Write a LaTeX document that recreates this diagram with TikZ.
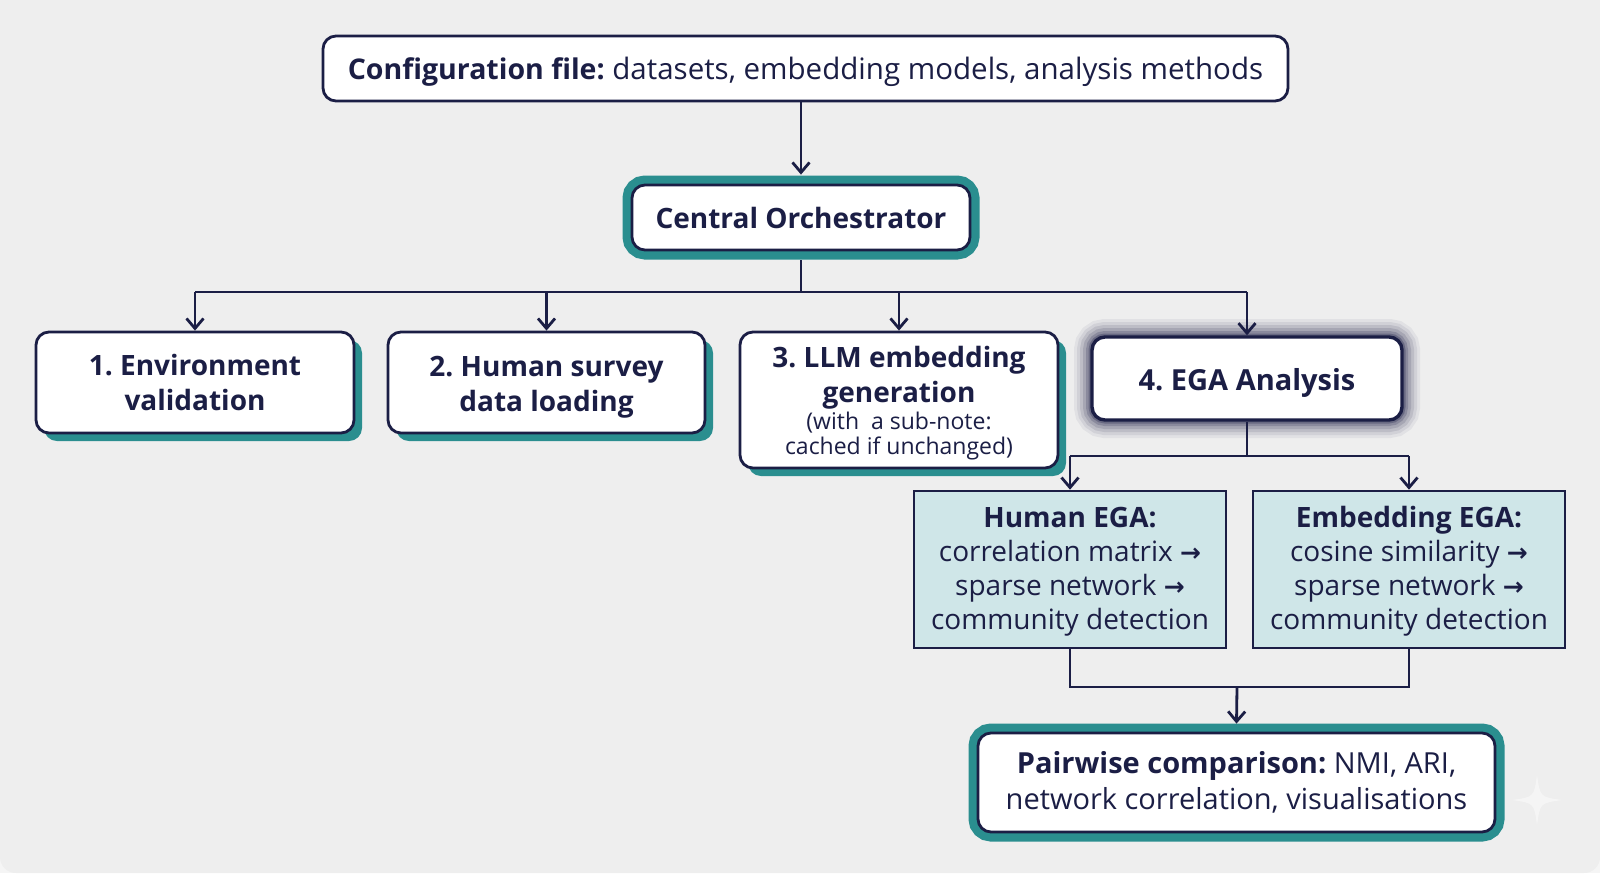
\documentclass[tikz,border=0pt]{standalone}
\usepackage{fontspec}
\setmainfont{Open Sans}
\newfontfamily\arrowfont{DejaVu Sans}
\usetikzlibrary{shapes,arrows.meta,shadows}
\frenchspacing

\definecolor{navy}{HTML}{1B1E45}
\definecolor{tealshade}{HTML}{2A8E8F}
\definecolor{egafill}{HTML}{CFE6E8}
\definecolor{bggrey}{HTML}{EEEEEE}
\definecolor{outergrey}{HTML}{F5F5F5}

\newcommand{\ra}{{\arrowfont\bfseries\fontsize{25}{30}\selectfont →}}

\begin{document}
\begin{tikzpicture}[x=1pt, y=-1pt]
\tikzstyle{boxr}=[rectangle, rounded corners=13pt, draw=navy, line width=2.8pt, fill=white, text=navy, align=center, inner sep=0pt, font=\fontsize{28}{35}\selectfont]
\tikzstyle{boxshadow}=[boxr, drop shadow={shadow xshift=8pt, shadow yshift=-8pt, fill=tealshade, opacity=1}]
\tikzstyle{boxframe}=[boxr, preaction={draw=tealshade, line width=19pt}]
\tikzstyle{boxglow}=[boxr, line width=3.4pt, preaction={draw=navy, line width=36pt, opacity=0.06}, preaction={draw=navy, line width=30pt, opacity=0.08}, preaction={draw=navy, line width=24pt, opacity=0.11}, preaction={draw=navy, line width=18pt, opacity=0.14}, preaction={draw=navy, line width=12pt, opacity=0.2}, preaction={draw=navy, line width=7pt, opacity=0.3}]
\tikzstyle{boxega}=[rectangle, draw=navy, line width=2.6pt, fill=egafill, text=navy, align=center, inner sep=0pt, font=\fontsize{28}{34}\selectfont]
\tikzstyle{linestyle}=[navy, line width=2.8pt]
\tikzstyle{drawstyle}=[linestyle, -{Straight Barb[length=10pt, width=17pt]}]

\useasboundingbox (0,0) rectangle (1600,873);
% background
\fill[outergrey] (0,0) rectangle (1600,873);
\fill[bggrey, rounded corners=16pt] (0,-40) rectangle (1600,873);

\node[boxr, minimum width=965pt, minimum height=65pt, font=\fontsize{29.5}{35}\selectfont] (config) at (805.5,68.5) {\rule{0pt}{28.5pt}{\fontsize{28.5}{35}\selectfont\bfseries Configuration file:} datasets, embedding models, analysis methods};
\node[boxframe, minimum width=338pt, minimum height=65pt] (orch) at (801,217.5) {\textbf{Central Orchestrator}};
\draw[drawstyle] (orch |- config.south) -- ([yshift=9pt]orch.north);

\node[boxshadow, minimum width=318pt, minimum height=101pt] (env) at (195,382.5) {\textbf{1. Environment}\\\textbf{validation}};
\node[boxshadow, minimum width=317pt, minimum height=101pt] (survey) at (546.5,382.5) {\rule{0pt}{29.5pt}\textbf{2. Human survey}\\\textbf{data loading}};
\node[boxshadow, minimum width=318pt, minimum height=136pt] (llm) at (899,400) {\rule{0pt}{27.5pt}\textbf{3. LLM embedding}\\\textbf{generation}\\[-8pt]{\fontsize{23}{25}\selectfont (with\ \ a sub-note:}\\[-10pt]{\fontsize{23}{25}\selectfont cached if unchanged)}};
\node[boxglow, minimum width=310pt, minimum height=83pt, font=\fontsize{29}{35}\selectfont] (ega) at (1247,378.5) {\rule{0pt}{30pt}\textbf{4. EGA Analysis}};

\coordinate (bus) at (801,292);
\coordinate (bus1) at (env |- bus);
\coordinate (bus2) at (survey |- bus);
\coordinate (bus3) at (llm |- bus);
\coordinate (bus4) at (ega |- bus);
\draw[linestyle] ([yshift=-9pt]orch.south) -- (bus);
\draw[linestyle] (bus1) -- (bus4);
\draw[drawstyle] (bus1) -- (env);
\draw[drawstyle] (bus2) -- (survey);
\draw[drawstyle] (bus3) -- (llm);
\draw[drawstyle] (bus4) -- (ega);

\node[boxega, minimum width=312pt, minimum height=157pt] (hega) at (1070,569.5) {\rule{0pt}{25pt}\textbf{Human EGA:}\\correlation matrix \ra\\sparse network \ra\\community detection};
\node[boxega, minimum width=312pt, minimum height=157pt] (eega) at (1409,569.5) {\rule{0pt}{25pt}\textbf{Embedding EGA:}\\cosine similarity \ra\\sparse network \ra\\community detection};

\coordinate (split) at (1247,456);
\coordinate (splitL) at (hega |- split);
\coordinate (splitR) at (eega |- split);
\draw[linestyle] (ega) -- (split);
\draw[linestyle] (splitL) -- (splitR);
\draw[drawstyle] (splitL) -- (hega);
\draw[drawstyle] (splitR) -- (eega);

\node[boxframe, minimum width=517pt, minimum height=99pt, font=\fontsize{29}{36}\selectfont] (pair) at (1236.5,782.5) {\textbf{Pairwise comparison:} NMI, ARI,\\network correlation, visualisations};

\coordinate (merge) at (1237,687);
\draw[linestyle] (hega) -- (hega |- merge) -- (eega |- merge) -- (eega);
\draw[drawstyle] (merge) -- ([yshift=8pt]pair.north);

% faint sparkle mark
\fill[white, opacity=0.45] (1537,775) .. controls (1540,797) .. (1562,800) .. controls (1540,803) .. (1537,825) .. controls (1534,803) .. (1512,800) .. controls (1534,797) .. cycle;
\end{tikzpicture}
\end{document}
